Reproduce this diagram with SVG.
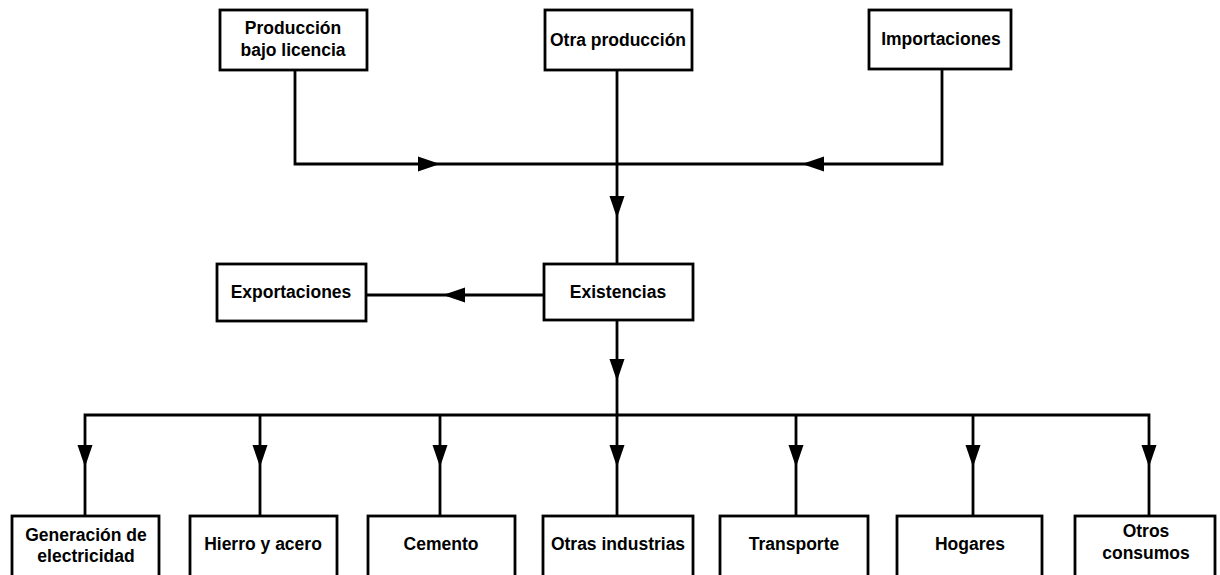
<svg xmlns="http://www.w3.org/2000/svg" width="1220" height="575" viewBox="0 0 1220 575">
  <style>
    .box { fill: #fff; stroke: #000; stroke-width: 2.8; }
    .lbl { font-family: "Liberation Sans", Arial, sans-serif; font-weight: bold; font-size: 17.5px; fill: #000; text-anchor: middle; }
    .wire { fill: none; stroke: #000; stroke-width: 2.8; }
    .head { fill: #000; stroke: none; }
  </style>
  <defs>
    <!-- arrowhead pointing down, tip at the origin -->
    <path id="ah" class="head" d="M0,0 L-7.5,-22 L7.5,-22 Z"/>
  </defs>
  <rect width="1220" height="575" fill="#fff"/>

  <g id="connectors">
    <!-- inflows to stock -->
    <path class="wire" d="M295,70 V164 H942 V69"/>
    <path class="wire" d="M617,70 V264"/>
    <use href="#ah" transform="translate(440,164) rotate(-90)"/>
    <use href="#ah" transform="translate(802,164) rotate(90)"/>
    <use href="#ah" transform="translate(617,218)"/>
    <!-- exports -->
    <path class="wire" d="M544,295 H366"/>
    <use href="#ah" transform="translate(443,295) rotate(90)"/>
    <!-- distribution bus -->
    <path class="wire" d="M617,320 V516"/>
    <use href="#ah" transform="translate(617,381)"/>
    <path class="wire" d="M85,516 V415 H1149 V516"/>
    <path class="wire" d="M260,415 V516 M440,415 V516 M796,415 V516 M973,415 V516"/>
    <use href="#ah" transform="translate(85,467)"/>
    <use href="#ah" transform="translate(260,467)"/>
    <use href="#ah" transform="translate(440,467)"/>
    <use href="#ah" transform="translate(617,467)"/>
    <use href="#ah" transform="translate(796,467)"/>
    <use href="#ah" transform="translate(973,467)"/>
    <use href="#ah" transform="translate(1149,467)"/>
  </g>

  <g id="produccion-licencia">
    <rect class="box" x="220" y="10" width="147" height="60"/>
    <text class="lbl" x="293" y="34">Producción</text>
    <text class="lbl" x="293" y="56">bajo licencia</text>
  </g>
  <g id="otra-produccion">
    <rect class="box" x="545" y="10" width="147" height="60"/>
    <text class="lbl" x="618" y="46">Otra producción</text>
  </g>
  <g id="importaciones">
    <rect class="box" x="869" y="10" width="142" height="59"/>
    <text class="lbl" x="941" y="45">Importaciones</text>
  </g>
  <g id="exportaciones">
    <rect class="box" x="217" y="264" width="149" height="57"/>
    <text class="lbl" x="291" y="298">Exportaciones</text>
  </g>
  <g id="existencias">
    <rect class="box" x="544" y="264" width="149" height="56"/>
    <text class="lbl" x="618" y="298">Existencias</text>
  </g>

  <g id="generacion">
    <rect class="box" x="12" y="516" width="147" height="62"/>
    <text class="lbl" x="86" y="541">Generación de</text>
    <text class="lbl" x="86" y="562">electricidad</text>
  </g>
  <g id="hierro">
    <rect class="box" x="190" y="516" width="147" height="62"/>
    <text class="lbl" x="263" y="550">Hierro y acero</text>
  </g>
  <g id="cemento">
    <rect class="box" x="368" y="516" width="147" height="62"/>
    <text class="lbl" x="441" y="550">Cemento</text>
  </g>
  <g id="otras-industrias">
    <rect class="box" x="543" y="516" width="150" height="62"/>
    <text class="lbl" x="618" y="550">Otras industrias</text>
  </g>
  <g id="transporte">
    <rect class="box" x="720" y="516" width="148" height="62"/>
    <text class="lbl" x="794" y="550">Transporte</text>
  </g>
  <g id="hogares">
    <rect class="box" x="897" y="516" width="145" height="62"/>
    <text class="lbl" x="970" y="550">Hogares</text>
  </g>
  <g id="otros-consumos">
    <rect class="box" x="1075" y="516" width="140" height="62"/>
    <text class="lbl" x="1146" y="537">Otros</text>
    <text class="lbl" x="1146" y="559">consumos</text>
  </g>
</svg>
